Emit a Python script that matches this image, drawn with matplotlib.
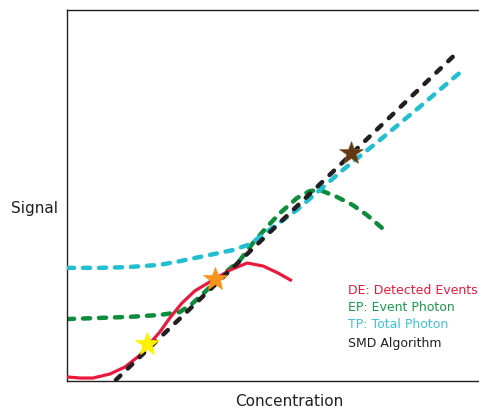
import matplotlib
matplotlib.use("Agg")
from matplotlib import pyplot as plt

plt.rcParams["font.family"] = ["DejaVu Sans"]

# SMD Algorithm (straight reference line)
smd_x = [1.17, 9.35]
smd_y = [0.03, 8.87]

# TP: Total Photon
tp_x = [0, 0.79, 1.44, 2.22, 2.70, 3.42, 3.97, 4.38, 4.78, 5.17, 5.50, 6.05, 6.60, 7.49, 8.44, 9.45]
tp_y = [3.05, 3.05, 3.07, 3.13, 3.23, 3.40, 3.53, 3.69, 4.02, 4.34, 4.61, 5.15, 5.69, 6.50, 7.39, 8.36]

# EP: Event Photon
ep_x = [0, 0.79, 1.51, 2.22, 2.70, 2.99, 3.30, 3.66, 4.14, 4.45, 4.78, 5.10, 5.50, 5.81, 6.05, 6.46, 6.84, 7.18, 7.54]
ep_y = [1.67, 1.70, 1.73, 1.78, 1.86, 2.08, 2.40, 2.80, 3.26, 3.72, 4.15, 4.53, 4.93, 5.12, 5.15, 4.96, 4.74, 4.47, 4.12]

# DE: Detected Events
de_x = [0, 0.31, 0.62, 1.03, 1.39, 1.75, 1.91, 2.22, 2.46, 2.75, 3.06, 3.49, 3.90, 4.31, 4.69, 5.05, 5.38]
de_y = [0.11, 0.08, 0.08, 0.19, 0.38, 0.70, 0.92, 1.32, 1.70, 2.10, 2.43, 2.72, 2.99, 3.18, 3.10, 2.91, 2.70]

# star markers
star_x = [1.91, 3.54, 6.79]
star_y = [1.00, 2.75, 6.15]
star_colors = ["#FFF200", "#F7941D", "#603813"]

labels = ["DE: Detected Events", "EP: Event Photon", "TP: Total Photon", "SMD Algorithm"]
label_colors = ["#E8193C", "#1A9A4A", "#3BC4D8", "#231F20"]

fig = plt.figure(figsize=(4.79, 4.08), dpi=100)
ax = fig.add_axes([67 / 479, 27 / 408, 418 / 479, 371 / 408])

ax.plot(ep_x, ep_y, color="#0E8C3C", lw=3.2, dashes=(1.6, 2.0), dash_capstyle="round",
        dash_joinstyle="round", zorder=2)
ax.plot(tp_x, tp_y, color="#23BED0", lw=3.2, dashes=(1.6, 2.0), dash_capstyle="round",
        dash_joinstyle="round", zorder=3)
ax.plot(de_x, de_y, color="#E8193C", lw=2.3, solid_joinstyle="round", solid_capstyle="butt", zorder=4)
ax.plot(smd_x, smd_y, color="#231F20", lw=3.2, dashes=(1.4, 2.3), dash_capstyle="round", zorder=5)

for sx, sy, c in zip(star_x, star_y, star_colors):
    ax.plot(sx, sy, marker="*", ms=18, color=c, mec="#8a6a40" if c == "#603813" else c,
            mew=0.5, zorder=6)

ax.set_xlim(0, 10)
ax.set_ylim(0, 10)
ax.set_xticks([])
ax.set_yticks([])
for s in ["left", "top", "bottom"]:
    ax.spines[s].set_color("#231F20")
    ax.spines[s].set_linewidth(1.0)
ax.spines["right"].set_visible(False)

ys = [0.245, 0.199, 0.151, 0.102]
for t, c, y in zip(labels, label_colors, ys):
    ax.text(0.672, y, t, color=c, fontsize=9, va="center", ha="left", transform=ax.transAxes)

fig.text(35 / 479, 1 - 208 / 408, "Signal", fontsize=11, ha="center", va="center", color="#231F20")
fig.text(289 / 479, 1 - 401 / 408, "Concentration", fontsize=11, ha="center", va="center", color="#231F20")

plt.savefig("out.png", dpi=100)
